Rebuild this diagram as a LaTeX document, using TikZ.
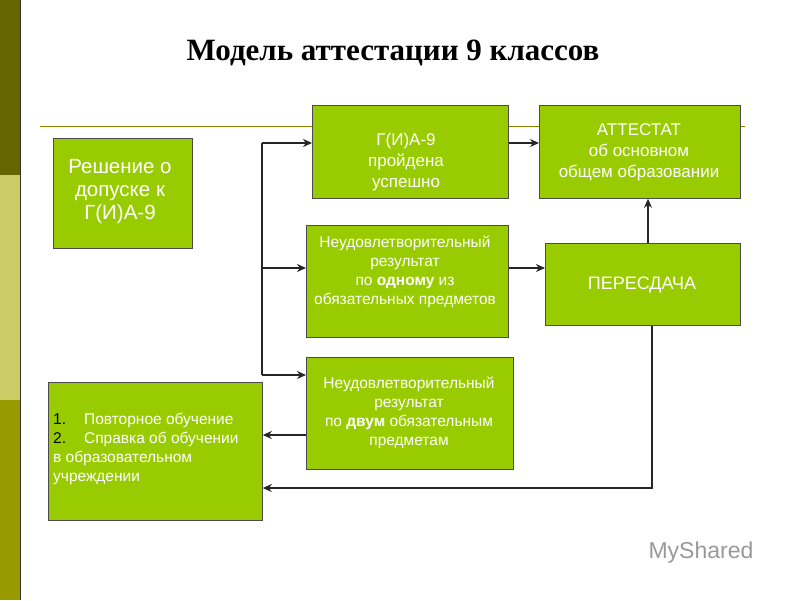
\documentclass[tikz,border=0pt]{standalone}
\usepackage{fontspec}
\setmainfont{Liberation Serif}
\newfontfamily\sans{Liberation Sans}
\usetikzlibrary{arrows.meta}
\definecolor{boxg}{HTML}{99CC00}
\definecolor{olA}{HTML}{666600}
\definecolor{olB}{HTML}{CCCC66}
\definecolor{olC}{HTML}{999900}
\tikzset{gbox/.style={draw=black!70,fill=boxg,line width=0.8pt,inner sep=0pt},
btxt/.style={text=white,align=center,inner sep=0pt},
conn/.style={line width=1.8pt,draw=black!85,-{Stealth[length=9pt,width=8pt]}},
lin/.style={line width=1.8pt,draw=black!85}}
\begin{document}
\begin{tikzpicture}[x=1pt,y=-1pt]
\useasboundingbox (0,0) rectangle (800,600);
\fill[white] (0,0) rectangle (800,600);
\fill[olA] (0,0) rectangle (20,175);
\fill[olB] (0,175) rectangle (20,400);
\fill[olC] (0,400) rectangle (20,600);
\draw[black!80,line width=0.6pt] (20,0) -- (20,600);
\node[font=\bfseries\fontsize{31}{36}\selectfont] (title) at (393,53) {Модель аттестации 9 классов};
\draw[olC!90!black,line width=1pt] (40,126) -- (745,126);
\node[gbox,minimum width=139pt,minimum height=110pt,anchor=north west] (dec) at (53,138) {};
\node[btxt,font=\sans\fontsize{20.5}{23}\selectfont] (dect) at (120,192) {Решение о\\допуске к\\ Г(И)А-9};
\node[gbox,minimum width=196pt,minimum height=93pt,anchor=north west] (pass) at (312,105) {};
\node[btxt,font=\sans\fontsize{17}{21}\selectfont] (passt) at (406,162) {Г(И)А-9\\пройдена\\ успешно};
\node[gbox,minimum width=201pt,minimum height=93pt,anchor=north west] (att) at (539,105) {};
\node[btxt,font=\sans\fontsize{17}{21}\selectfont] (attt) at (639,152) {АТТЕСТАТ\\об основном\\ общем образовании};
\node[gbox,minimum width=202pt,minimum height=112pt,anchor=north west] (one) at (306,225) {};
\node[btxt,font=\sans\fontsize{15.5}{19}\selectfont] (onet) at (405,272) {Неудовлетворительный\\результат\\по \textbf{одному} из\\обязательных предметов};
\node[gbox,minimum width=195pt,minimum height=82pt,anchor=north west] (re) at (545,243) {};
\node[btxt,font=\sans\fontsize{18}{22}\selectfont] (ret) at (642,285) {ПЕРЕСДАЧА};
\node[gbox,minimum width=207pt,minimum height=112pt,anchor=north west] (two) at (306,357) {};
\node[btxt,font=\sans\fontsize{15.5}{19}\selectfont] (twot) at (409,413) {Неудовлетворительный\\результат\\по \textbf{двум} обязательным\\предметам};
\node[gbox,minimum width=214pt,minimum height=138pt,anchor=north west] (rep) at (48,382) {};
\node[btxt,font=\sans\fontsize{15.5}{19}\selectfont,align=left,anchor=north west] (rept) at (53,413) {\textcolor{black}{1.}\hspace{18pt}Повторное обучение\\\textcolor{black}{2.}\hspace{18pt}Справка об обучении\\в образовательном\\учреждении};
\coordinate (vt) at (262,143);
\coordinate (vb) at (262,375);
\draw[lin] (vb) -- (vt);
\draw[conn] (vt) -- (pass.west|-vt);
\draw[conn] (262,268) -- (one.west|-0,268);
\draw[conn] (vb) -- (two.west|-vb);
\draw[conn] (pass.east|-0,143) -- (att.west|-0,143);
\draw[conn] (one.east|-0,268) -- (re.west|-0,268);
\draw[conn] (re.north-|648,0) -- (att.south-|648,0);
\draw[conn] (two.west|-0,435) -- (rep.east|-0,435);
\draw[conn] (re.south-|652,0) -- (652,488) -- (rep.east|-0,488);
\node[font=\sans\fontsize{23}{27}\selectfont,text=black!40,anchor=west] (logo) at (645,553) {MyShared};
\end{tikzpicture}
\end{document}
